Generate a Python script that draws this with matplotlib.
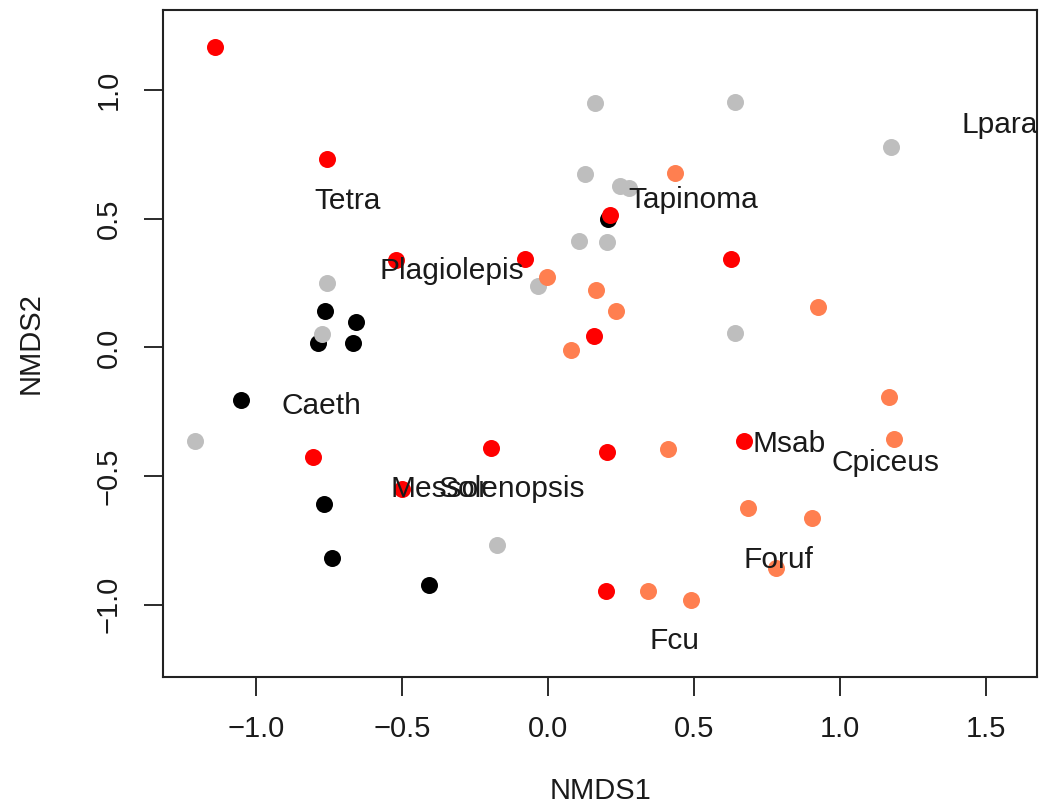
import numpy as np
import matplotlib
matplotlib.use("Agg")
import matplotlib.pyplot as plt

##############################
#  data
##############################
black_x = [0.207, -0.764, -0.658, -0.786, -0.669, -1.052, -0.766, -0.741, -0.409]
black_y = [0.499, 0.142, 0.100, 0.016, 0.016, -0.204, -0.609, -0.820, -0.924]

grey_x = [0.161, 0.641, 1.174, 0.127, 0.248, 0.277, 0.107, 0.201, -0.033, -0.758, -0.773, 0.641, -1.209, -0.174]
grey_y = [0.950, 0.953, 0.779, 0.675, 0.626, 0.619, 0.412, 0.408, 0.240, 0.252, 0.051, 0.055, -0.363, -0.768]

red_x = [-1.140, -0.758, -0.521, -0.079, 0.213, 0.628, 0.157, -0.804, -0.196, 0.201, -0.501, 0.671, 0.198]
red_y = [1.168, 0.731, 0.338, 0.344, 0.516, 0.343, 0.046, -0.425, -0.392, -0.405, -0.552, -0.364, -0.946]

coral_x = [0.437, -0.002, 0.166, 0.234, 0.080, 0.926, 1.168, 1.187, 0.412, 0.687, 0.906, 0.781, 0.344, 0.489]
coral_y = [0.680, 0.275, 0.224, 0.143, -0.010, 0.159, -0.194, -0.356, -0.395, -0.623, -0.665, -0.859, -0.946, -0.982]

species = ["Tetra", "Tapinoma", "Lpara", "Plagiolepis", "Caeth", "Msab",
           "Cpiceus", "Messor", "Solenopsis", "Foruf", "Fcu"]
sp_x = [-0.685, 0.497, 1.548, -0.329, -0.775, 0.825, 1.157, -0.370, -0.122, 0.791, 0.433]
sp_y = [0.570, 0.574, 0.866, 0.299, -0.228, -0.377, -0.451, -0.552, -0.552, -0.827, -1.142]

x_ticks = [-1.0, -0.5, 0.0, 0.5, 1.0, 1.5]
y_ticks = [-1.0, -0.5, 0.0, 0.5, 1.0]

##############################
#  plot
##############################
plt.rcParams['font.family'] = ['Liberation Sans', 'DejaVu Sans']
plt.rcParams['axes.unicode_minus'] = True

fig = plt.figure(figsize=(10.39, 8.10), dpi=100)
ax = fig.add_axes([0.157, 0.164, 0.841, 0.824])

msize = 150
ax.scatter(black_x, black_y, s=msize, c='black', lw=0, zorder=2)
ax.scatter(grey_x, grey_y, s=msize, c='#bebebe', lw=0, zorder=3)
ax.scatter(red_x, red_y, s=msize, c='#ff0000', lw=0, zorder=4)
ax.scatter(coral_x, coral_y, s=msize, c='#ff7f50', lw=0, zorder=5)

#-- species labels (Messor / Solenopsis overlap as in the original)
for name, xx, yy in zip(species, sp_x, sp_y):
	ax.text(xx, yy, name, ha='center', va='center', fontsize=21.5,
		color='#1a1a1a', zorder=6, clip_on=True)

ax.set_xlim(-1.318, 1.675)
ax.set_ylim(-1.282, 1.313)

ax.set_xticks(x_ticks)
ax.set_yticks(y_ticks)
ax.set_xticklabels([("%.1f" % t).replace("-", "\u2212") for t in x_ticks])
ax.set_yticklabels([("%.1f" % t).replace("-", "\u2212") for t in y_ticks], rotation=90, va='center')
ax.tick_params(direction='out', length=14, width=1.3, labelsize=21, colors='#1a1a1a')
ax.tick_params(axis='x', pad=13)
ax.tick_params(axis='y', pad=15)

for sp in ax.spines.values():
	sp.set_linewidth(1.5)
	sp.set_color('#222222')

ax.set_xlabel("NMDS1", fontsize=21, labelpad=25, color='#1a1a1a')
ax.set_ylabel("NMDS2", fontsize=21, labelpad=36, color='#1a1a1a')

plt.savefig("out.png", dpi=100)
